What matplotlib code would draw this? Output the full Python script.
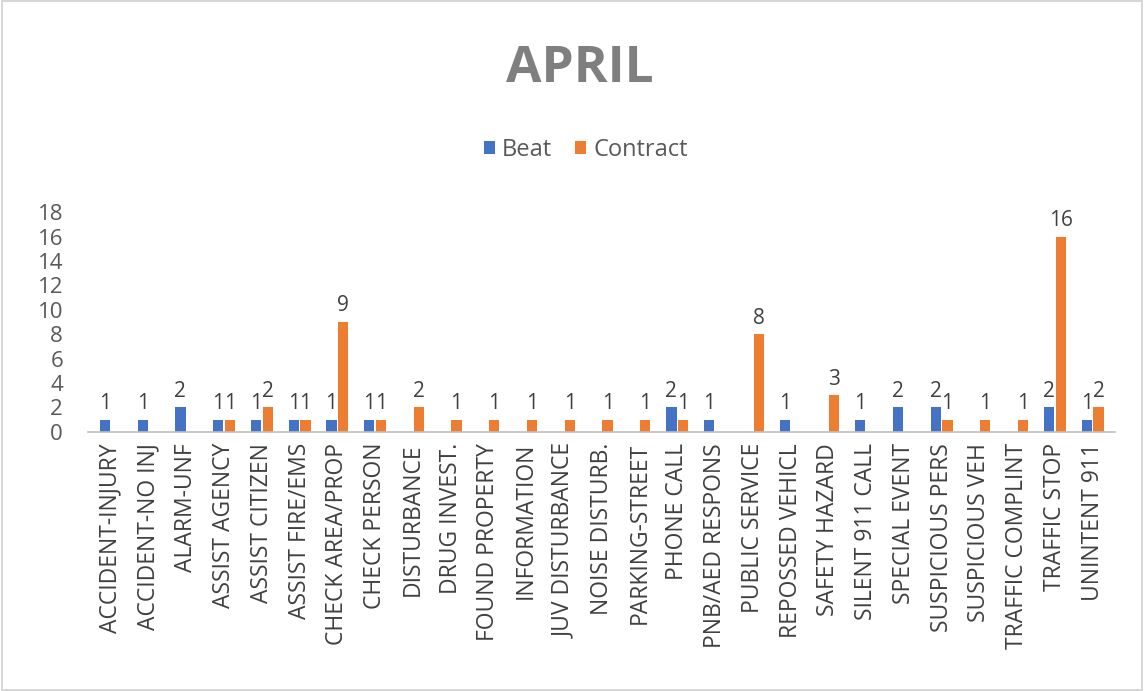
import matplotlib
matplotlib.use("Agg")
import matplotlib.pyplot as plt
import numpy as np
from matplotlib.patches import Rectangle

categories = ["ACCIDENT-INJURY", "ACCIDENT-NO INJ", "ALARM-UNF", "ASSIST AGENCY",
              "ASSIST CITIZEN", "ASSIST FIRE/EMS", "CHECK AREA/PROP", "CHECK PERSON",
              "DISTURBANCE", "DRUG INVEST.", "FOUND PROPERTY", "INFORMATION",
              "JUV DISTURBANCE", "NOISE DISTURB.", "PARKING-STREET", "PHONE CALL",
              "PNB/AED RESPONS", "PUBLIC SERVICE", "REPOSSED VEHICL", "SAFETY HAZARD",
              "SILENT 911 CALL", "SPECIAL EVENT", "SUSPICIOUS PERS", "SUSPICIOUS VEH",
              "TRAFFIC COMPLINT", "TRAFFIC STOP", "UNINTENT 911"]
beat = [1, 1, 2, 1, 1, 1, 1, 1, 0, 0, 0, 0, 0, 0, 0, 2, 1, 0, 1, 0, 1, 2, 2, 0, 0, 2, 1]
contract = [0, 0, 0, 1, 2, 1, 9, 1, 2, 1, 1, 1, 1, 1, 1, 1, 0, 8, 0, 3, 0, 0, 1, 1, 1, 16, 2]
yticks = list(range(0, 19, 2))

plt.rcParams['font.family'] = ['Open Sans', 'DejaVu Sans']

fig = plt.figure(figsize=(11.44, 6.91), dpi=100)
fig.patches.append(Rectangle((0.002, 0.002), 0.996, 0.996, transform=fig.transFigure,
                             fill=False, edgecolor='#D0D0D0', linewidth=1.2))
ax = fig.add_axes([0.077, 0.375, 0.898, 0.318])

x = np.arange(len(categories))
w = 0.27
off = 0.155
blue = '#4472C4'
orange = '#ED7D31'
b1 = ax.bar(x - off, beat, w, color=blue, label='Beat')
b2 = ax.bar(x + off, contract, w, color=orange, label='Contract')

for bars, vals in ((b1, beat), (b2, contract)):
    for r, v in zip(bars, vals):
        if v:
            ax.annotate(str(v), (r.get_x() + r.get_width() / 2, v), xytext=(0, 4),
                        textcoords='offset points', ha='center', va='bottom',
                        fontsize=15, color='#404040')

ax.set_xlim(-0.6, len(categories) - 0.4)
ax.set_ylim(0, 18)
ax.set_yticks(yticks)
ax.set_xticks(x)
ax.set_xticklabels(categories, rotation=90, fontsize=16.5, color='#404040')
ax.tick_params(axis='y', length=0, labelsize=16, labelcolor='#595959', pad=18)
ax.tick_params(axis='x', length=0, pad=8)
for s in ('top', 'right', 'left'):
    ax.spines[s].set_visible(False)
ax.spines['bottom'].set_color('#BFBFBF')
ax.spines['bottom'].set_linewidth(1.2)

fig.text(0.507, 0.900, 'APRIL', ha='center', va='center', fontsize=37, fontweight='bold',
         color='#7F7F7F')
fig.legend(handles=[b1, b2], loc='center', bbox_to_anchor=(0.512, 0.783), ncol=2,
           frameon=False, fontsize=17, handlelength=0.45, handleheight=0.45,
           handletextpad=0.3, columnspacing=1.0, labelcolor='#595959')

fig.savefig('out.png', dpi=100)
